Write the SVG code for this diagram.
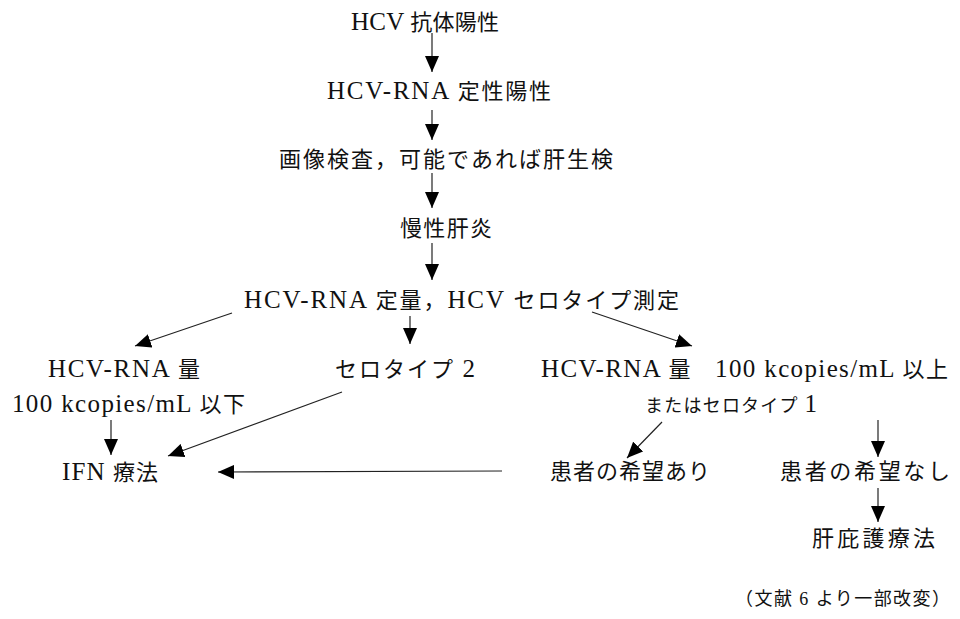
<svg xmlns="http://www.w3.org/2000/svg" width="960" height="619" viewBox="0 0 960 619">
<style>
text{font-family:"Liberation Serif","Noto Sans CJK JP",serif;font-size:22px;fill:#111}
.l{font-size:25px}
.note{font-size:18px}
.c line{stroke:#222;stroke-width:1.2;fill:none}
</style>
<defs>
<marker id="ah" viewBox="0 0 16 14" refX="16" refY="7" markerWidth="16" markerHeight="14" markerUnits="userSpaceOnUse" orient="auto">
<path d="M0,0 L16,7 L0,14 z" fill="#000"/>
</marker>
</defs>
<rect width="960" height="619" fill="#fff"/>
<g id="n1"><text x="351" y="30" textLength="148" lengthAdjust="spacing"><tspan class="l">HCV </tspan>抗体陽性</text></g>
<g id="n2"><text x="327" y="99" textLength="224" lengthAdjust="spacing"><tspan class="l">HCV-RNA </tspan>定性陽性</text></g>
<g id="n3"><text x="279" y="167" textLength="334" lengthAdjust="spacing">画像検査，可能であれば肝生検</text></g>
<g id="n4"><text x="400" y="236" textLength="92" lengthAdjust="spacing">慢性肝炎</text></g>
<g id="n5"><text x="244" y="308" textLength="435" lengthAdjust="spacing"><tspan class="l">HCV-RNA </tspan>定量，<tspan class="l">HCV </tspan>セロタイプ測定</text></g>
<g id="n6"><text x="48" y="377" textLength="152" lengthAdjust="spacing"><tspan class="l">HCV-RNA </tspan>量</text><text x="12" y="412" textLength="233" lengthAdjust="spacing"><tspan class="l">100 kcopies/mL </tspan>以下</text></g>
<g id="n7"><text x="335" y="377" textLength="140" lengthAdjust="spacing">セロタイプ <tspan class="l">2</tspan></text></g>
<g id="n8"><text x="541" y="377" textLength="407" lengthAdjust="spacing"><tspan class="l">HCV-RNA </tspan>量　<tspan class="l">100 kcopies/mL </tspan>以上</text><text x="645" y="412" textLength="172" lengthAdjust="spacing" style="font-size:18px">またはセロタイプ <tspan class="l">1</tspan></text></g>
<g id="n9"><text x="62" y="480" textLength="96" lengthAdjust="spacing"><tspan class="l">IFN </tspan>療法</text></g>
<g id="n10"><text x="550" y="479" textLength="160" lengthAdjust="spacing">患者の希望あり</text></g>
<g id="n11"><text x="780" y="479" textLength="170" lengthAdjust="spacing">患者の希望なし</text></g>
<g id="n12"><text x="812" y="546" textLength="123" lengthAdjust="spacing">肝庇護療法</text></g>
<g id="note"><text class="note" x="735" y="605" textLength="215" lengthAdjust="spacing">（文献 6 より一部改変）</text></g>
<g id="connectors" class="c">
<line x1="432" y1="33" x2="432" y2="72" marker-end="url(#ah)"/>
<line x1="432" y1="110" x2="432" y2="140" marker-end="url(#ah)"/>
<line x1="432" y1="173" x2="432" y2="208" marker-end="url(#ah)"/>
<line x1="432" y1="243" x2="432" y2="280" marker-end="url(#ah)"/>
<line x1="232" y1="313" x2="135" y2="346" marker-end="url(#ah)"/>
<line x1="410" y1="316" x2="410" y2="344" marker-end="url(#ah)"/>
<line x1="592" y1="312" x2="692" y2="346" marker-end="url(#ah)"/>
<line x1="111" y1="420" x2="111" y2="455" marker-end="url(#ah)"/>
<line x1="342" y1="392" x2="168" y2="456" marker-end="url(#ah)"/>
<line x1="502" y1="471" x2="218" y2="472" marker-end="url(#ah)"/>
<line x1="662" y1="422" x2="627" y2="458" marker-end="url(#ah)"/>
<line x1="878" y1="420" x2="878" y2="457" marker-end="url(#ah)"/>
<line x1="878" y1="488" x2="878" y2="522" marker-end="url(#ah)"/>
</g>
</svg>
